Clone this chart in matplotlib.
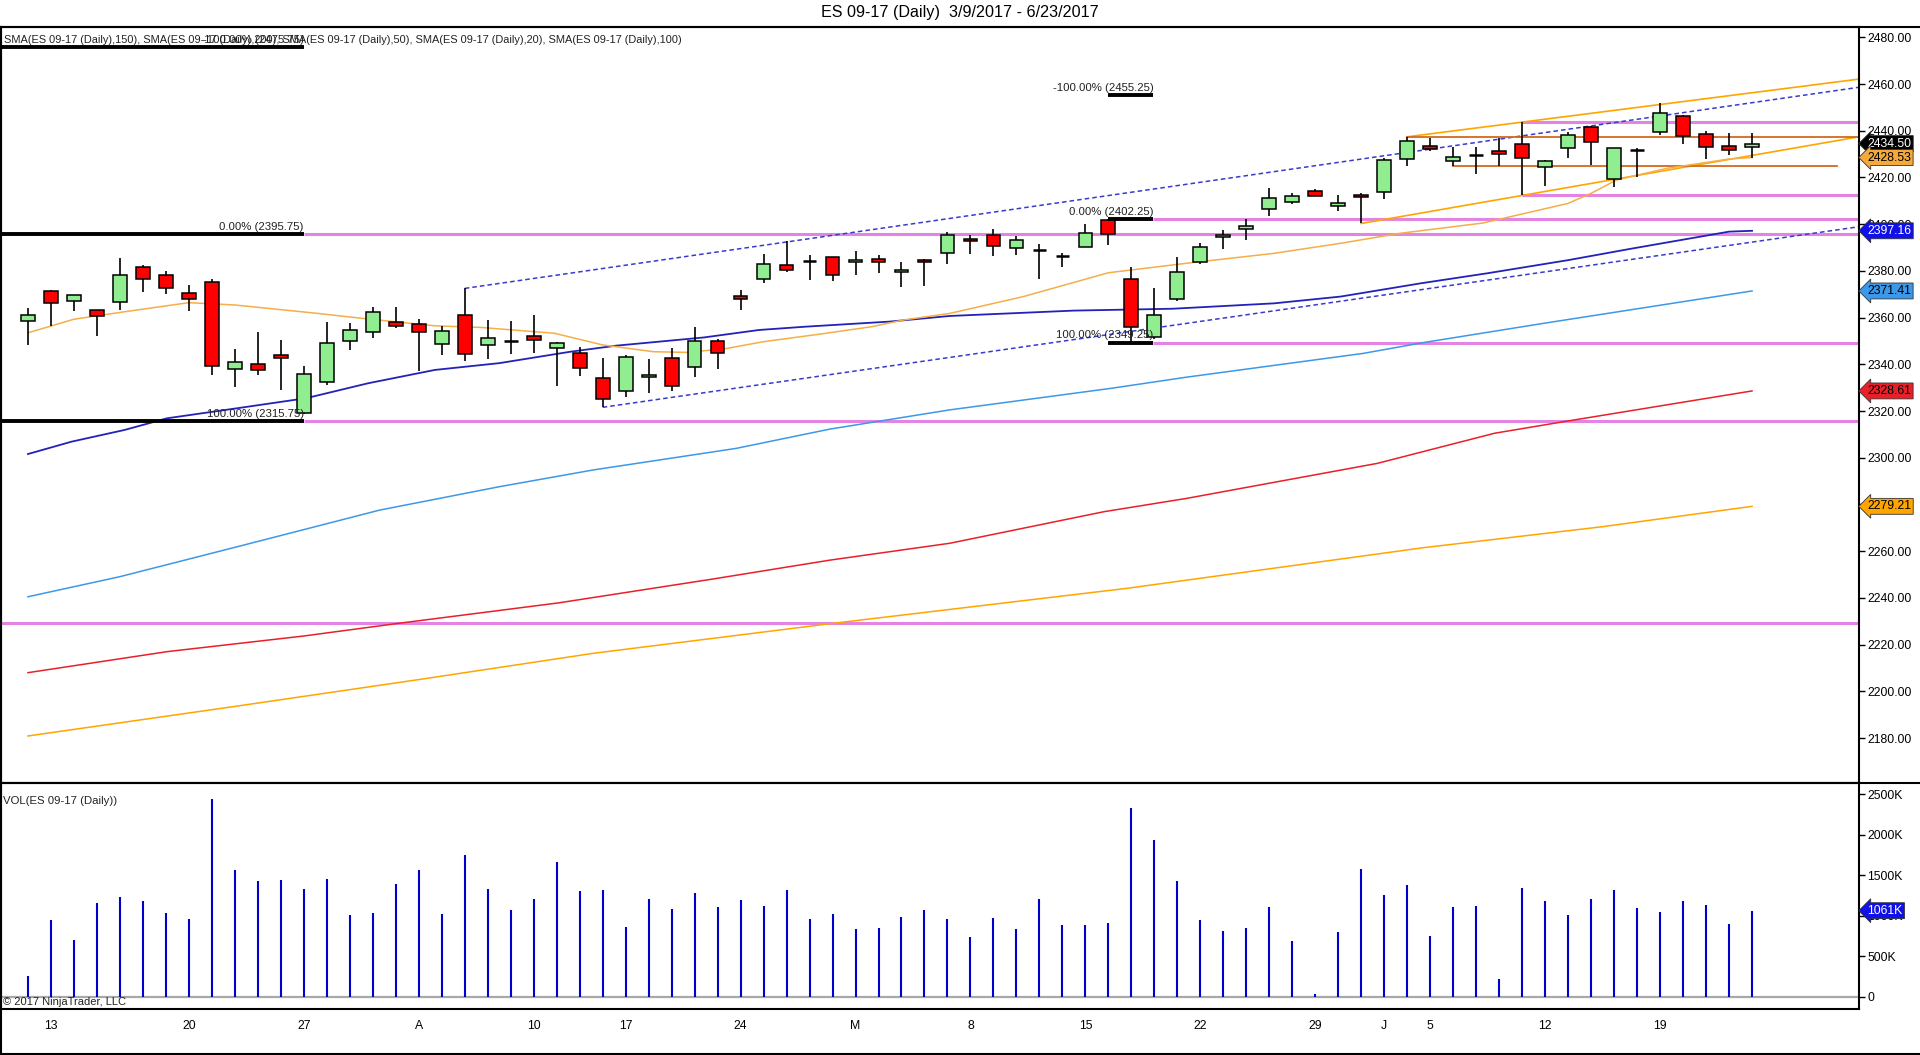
import numpy as np
import matplotlib
matplotlib.use('Agg')
import matplotlib.pyplot as plt
from matplotlib.lines import Line2D

plt.rcParams['font.family'] = ['Liberation Sans', 'DejaVu Sans']

########## daily bars, index 0 = 3/10 ... 75 = 6/23
opens = [2358.4, 2371.2, 2367.0, 2363.1, 2366.5, 2381.5, 2378.1, 2370.4, 2375.1, 2337.9,
         2340.0, 2343.8, 2319.0, 2332.3, 2349.8, 2353.7, 2358.0, 2357.1, 2348.6, 2361.0,
         2348.1, 2349.8, 2352.0, 2346.8, 2344.7, 2334.0, 2328.4, 2334.4, 2342.6, 2338.7,
         2349.8, 2369.2, 2376.4, 2382.4, 2384.2, 2385.8, 2383.7, 2385.2, 2379.4, 2384.5,
         2387.5, 2393.6, 2395.4, 2389.6, 2388.9, 2386.5, 2390.1, 2401.8, 2376.4, 2351.8,
         2367.8, 2383.6, 2394.4, 2397.8, 2406.3, 2409.6, 2414.0, 2407.6, 2412.3, 2413.6,
         2428.1, 2433.4, 2426.9, 2429.7, 2431.2, 2434.2, 2424.3, 2432.7, 2441.4, 2419.5,
         2431.6, 2439.6, 2446.1, 2438.4, 2433.4, 2432.9]
highs = [2364.0, 2371.7, 2369.5, 2363.1, 2385.5, 2382.4, 2379.8, 2374.0, 2376.4, 2346.6,
         2353.8, 2350.4, 2339.3, 2358.1, 2357.7, 2364.5, 2364.5, 2359.3, 2356.5, 2372.5,
         2359.0, 2358.5, 2361.1, 2349.4, 2347.3, 2342.6, 2344.0, 2342.1, 2346.8, 2356.0,
         2350.7, 2371.8, 2387.2, 2392.6, 2386.6, 2385.8, 2388.5, 2386.6, 2383.7, 2385.2,
         2396.5, 2395.2, 2397.9, 2394.9, 2391.5, 2387.5, 2400.1, 2402.25, 2381.8, 2372.5,
         2385.9, 2391.8, 2397.5, 2402.1, 2415.5, 2413.3, 2415.0, 2412.5, 2413.2, 2428.2,
         2437.5, 2436.7, 2433.2, 2432.9, 2436.7, 2443.75, 2427.3, 2439.6, 2442.0, 2432.4,
         2432.6, 2452.0, 2446.6, 2440.0, 2439.0, 2439.0]
lows = [2348.3, 2356.5, 2363.0, 2352.1, 2363.3, 2371.1, 2370.2, 2363.0, 2335.6, 2330.4,
        2335.6, 2329.1, 2318.8, 2331.0, 2346.3, 2351.4, 2355.4, 2337.1, 2344.0, 2341.6,
        2342.4, 2344.6, 2345.0, 2330.9, 2335.1, 2321.6, 2326.1, 2327.9, 2328.7, 2334.7,
        2338.1, 2363.4, 2374.9, 2379.7, 2376.2, 2375.8, 2378.4, 2379.2, 2373.2, 2373.7,
        2382.8, 2387.4, 2386.5, 2386.9, 2376.7, 2381.8, 2390.1, 2391.2, 2349.25, 2351.0,
        2367.1, 2382.9, 2389.5, 2393.4, 2403.5, 2408.8, 2411.9, 2405.8, 2400.3, 2410.6,
        2424.7, 2431.2, 2424.7, 2421.6, 2424.7, 2412.5, 2416.5, 2428.5, 2425.3, 2416.0,
        2420.3, 2438.2, 2434.2, 2428.0, 2429.6, 2428.2]
closes = [2361.0, 2366.1, 2369.5, 2360.5, 2378.1, 2376.7, 2372.5, 2368.1, 2339.4, 2340.8,
          2337.4, 2342.6, 2335.7, 2349.0, 2354.5, 2362.3, 2356.3, 2353.7, 2354.1, 2344.3,
          2351.1, 2349.8, 2350.3, 2349.0, 2338.3, 2325.0, 2343.0, 2335.4, 2330.9, 2349.8,
          2344.7, 2367.8, 2382.8, 2380.2, 2384.2, 2378.1, 2384.5, 2383.7, 2380.2, 2383.7,
          2395.5, 2392.6, 2390.8, 2393.1, 2388.9, 2386.5, 2396.1, 2395.8, 2355.8, 2361.0,
          2379.4, 2390.1, 2395.2, 2399.1, 2411.1, 2411.9, 2411.9, 2408.9, 2411.5, 2427.3,
          2435.4, 2432.3, 2428.6, 2429.7, 2429.9, 2428.4, 2426.9, 2438.0, 2435.3, 2432.4,
          2431.6, 2447.4, 2437.9, 2433.2, 2431.6, 2434.5]
volume_k = [255, 946, 699, 1155, 1229, 1180, 1032, 958, 2438, 1562,
            1427, 1439, 1328, 1451, 1007, 1032, 1390, 1562, 1020, 1748,
            1328, 1069, 1205, 1661, 1303, 1316, 859, 1205, 1081, 1279,
            1106, 1192, 1118, 1316, 958, 1020, 835, 847, 983, 1069,
            958, 736, 970, 835, 1205, 884, 884, 909, 2327, 1933,
            1427, 946, 810, 847, 1106, 687, 33, 798, 1575, 1254,
            1377, 748, 1106, 1118, 218, 1340, 1180, 1007, 1205, 1316,
            1094, 1044, 1180, 1131, 896, 1061]

tick_pos = [1, 7, 12, 17, 22, 26, 31, 36, 41, 46, 51, 56, 59, 61, 66, 71]
tick_lbl = ['13', '20', '27', 'A', '10', '17', '24', 'M', '8', '15', '22', '29', 'J', '5', '12', '19']

########## moving averages (bar, value)
sma20_x = [0, 2, 4.2, 7, 9, 12.6, 14.8, 17.7, 19.7, 22.9, 25, 27.2, 28.7, 30.4, 32, 34.5, 36.7,
           38.1, 40.1, 43.3, 47, 50.6, 54.2, 57.1, 59.7, 63.3, 67, 68, 69.1, 71.3, 74, 75]
sma20_y = [2353.5, 2359.3, 2362.5, 2366.4, 2365.4, 2361.8, 2359.4, 2356.5, 2355.8, 2353.3, 2348.3,
           2345.4, 2345.1, 2346.8, 2349.7, 2353.0, 2356.1, 2359.0, 2361.8, 2369.0, 2379.2, 2383.5,
           2387.5, 2391.8, 2396.1, 2400.5, 2408.9, 2413.2, 2418.9, 2423.9, 2427.9, 2428.53]
sma50_x = [0, 1.9, 4.2, 6.05, 9.1, 12.1, 14.8, 17.7, 20.5, 23.6, 25.6, 29.4, 31.8, 33.8, 37.5,
           40.1, 45.5, 49.8, 54.2, 57.1, 60.6, 63.5, 67, 69.8, 74, 75]
sma50_y = [2301.6, 2306.9, 2311.9, 2316.9, 2321.2, 2325.5, 2331.9, 2337.6, 2340.5, 2345.4, 2348.0,
           2351.5, 2354.7, 2356.1, 2358.3, 2360.7, 2363.0, 2363.8, 2366.1, 2369.0, 2374.7, 2379.0,
           2384.6, 2389.6, 2396.8, 2397.16]
sma100_x = [0, 4, 9.1, 15.3, 20.5, 24.6, 30.8, 34.9, 40.1, 47.1, 50.4, 58.1, 60.7, 65.9, 75]
sma100_y = [2240.5, 2249.1, 2261.9, 2277.6, 2287.6, 2294.8, 2304.0, 2312.3, 2320.5, 2329.7,
            2334.5, 2344.7, 2349.3, 2357.5, 2371.41]
sma150_x = [0, 6.05, 12, 16.1, 23.1, 29.8, 34.9, 40.1, 46.8, 50.4, 58.7, 63.8, 66.9, 75]
sma150_y = [2208.0, 2217.0, 2223.7, 2229.1, 2237.9, 2248.1, 2256.2, 2263.4, 2276.9, 2282.6,
            2297.6, 2310.5, 2315.6, 2328.61]
sma200_x = [0, 9.1, 16.9, 24.6, 35, 47.8, 60.7, 68.5, 75]
sma200_y = [2180.9, 2193.7, 2204.9, 2216.3, 2229.1, 2244.1, 2261.5, 2270.5, 2279.21]

########## drawings
fib1 = [2475.75, 2395.75, 2315.75]
fib1_lbl = ['-100.00% (2475.75)', '0.00% (2395.75)', '100.00% (2315.75)']
fib2 = [2455.25, 2402.25, 2349.25]
fib2_lbl = ['-100.00% (2455.25)', '0.00% (2402.25)', '100.00% (2349.25)']
pink_start = [-1.2, 12.0, 12.0, 48.96, 48.96, 65, 65]
pink_price = [2229.1, 2395.75, 2315.75, 2402.25, 2349.25, 2443.75, 2412.5]

XL = (-1.174, 79.65)

fig = plt.figure(figsize=(19.2, 10.55), dpi=100)
ax = fig.add_axes([0.0005, 0.2581, 0.9677, 0.7163])
axv = fig.add_axes([0.0005, 0.0436, 0.9677, 0.2145])

x = np.arange(len(opens))
o = np.array(opens); h = np.array(highs); l = np.array(lows); c = np.array(closes)

# pink levels
for s, p in zip(pink_start, pink_price):
    ax.plot([s, XL[1]], [p, p], color='#E383E3', lw=2.2, zorder=2, solid_capstyle='butt')

# fib anchors (black)
for p, t in zip(fib1, fib1_lbl):
    ax.plot([XL[0], 12.0], [p, p], color='black', lw=2.8, zorder=4, solid_capstyle='butt')
    ax.text(12.0, p + 1.0, t, ha='right', va='bottom', fontsize=8.2, color='#222222', zorder=5)
for p, t in zip(fib2, fib2_lbl):
    ax.plot([47, 48.96], [p, p], color='black', lw=2.8, zorder=4, solid_capstyle='butt')
    ax.text(48.96, p + 1.0, t, ha='right', va='bottom', fontsize=8.2, color='#222222', zorder=5)

# channels / trend lines
ax.plot([19, XL[1]], [2372.5, 2458.6], color='#3A3AD0', lw=1.1, ls=(0, (3, 2)), zorder=2)
ax.plot([25, XL[1]], [2321.6, 2398.9], color='#3A3AD0', lw=1.1, ls=(0, (3, 2)), zorder=2)
ax.plot([60, XL[1]], [2437.4, 2462.1], color='#FFA500', lw=1.2, zorder=2)
ax.plot([58, XL[1]], [2400.3, 2437.4], color='#FFA500', lw=1.2, zorder=2)
ax.plot([60, XL[1]], [2437.4, 2437.4], color='#D2691E', lw=1.3, zorder=2)
ax.plot([62, 78.7], [2424.8, 2424.8], color='#D2691E', lw=1.3, zorder=2)

# SMAs
ax.plot(sma200_x, sma200_y, color='#FFA500', lw=1.1, zorder=2.5)
ax.plot(sma150_x, sma150_y, color='#E8202A', lw=1.1, zorder=2.5)
ax.plot(sma100_x, sma100_y, color='#3C98E8', lw=1.1, zorder=2.5)
ax.plot(sma50_x, sma50_y, color='#2222B8', lw=1.3, zorder=2.5)
ax.plot(sma20_x, sma20_y, color='#F5AE48', lw=1.1, zorder=2.5)

# candles
ax.vlines(x, l, h, color='black', lw=1.2, zorder=3)
up = c > o
dn = c < o
eq = c == o
ax.bar(x[up], (c - o)[up], bottom=o[up], width=0.6, color='#90EE90', edgecolor='black', lw=1.1, zorder=3.5)
ax.bar(x[dn], (o - c)[dn], bottom=c[dn], width=0.6, color='#FF0000', edgecolor='black', lw=1.1, zorder=3.5)
ax.hlines(o[eq], x[eq] - 0.3, x[eq] + 0.3, color='black', lw=1.8, zorder=3.5)

ax.set_xlim(XL)
ax.set_ylim(2160.9, 2484.4)
ax.set_xticks([])
ax.yaxis.tick_right()
ax.set_yticks(np.arange(2180, 2481, 20))
ax.set_yticklabels(['%.2f' % v for v in np.arange(2180, 2481, 20)])
ax.tick_params(axis='y', direction='out', length=4, width=1, pad=2, labelsize=8.8, colors='black')
for s in ax.spines.values():
    s.set_linewidth(1.5)

ax.text(-1.05, 2478.9, 'SMA(ES 09-17 (Daily),150), SMA(ES 09-17 (Daily),200), SMA(ES 09-17 (Daily),50), '
        'SMA(ES 09-17 (Daily),20), SMA(ES 09-17 (Daily),100)', fontsize=7.9, va='center', ha='left',
        color='#222222', zorder=6)


def tag(a, y, txt, fc, tc):
    a.annotate(txt, xy=(1, y), xycoords=('axes fraction', 'data'), xytext=(6, 0),
               textcoords='offset points', ha='left', va='center', fontsize=8.8, color=tc,
               bbox=dict(boxstyle='larrow,pad=0.16', fc=fc, ec='#333333', lw=0.6),
               annotation_clip=False, zorder=10)


tag(ax, closes[-1], '%.2f' % closes[-1], 'black', 'white')
tag(ax, sma20_y[-1], '%.2f' % sma20_y[-1], '#F5A83C', 'black')
tag(ax, sma50_y[-1], '%.2f' % sma50_y[-1], '#1010E8', 'white')
tag(ax, sma100_y[-1], '%.2f' % sma100_y[-1], '#3C98E8', 'black')
tag(ax, sma150_y[-1], '%.2f' % sma150_y[-1], '#E8202A', 'black')
tag(ax, sma200_y[-1], '%.2f' % sma200_y[-1], '#FFA500', 'black')

# volume panel
axv.vlines(x, 0, volume_k, color='#0000CC', lw=1.5, zorder=3)
axv.axhline(0, color='#A8A8A8', lw=1.6, zorder=2)
axv.set_xlim(XL)
axv.set_ylim(-152, 2640)
axv.yaxis.tick_right()
vt = [0, 500, 1000, 1500, 2000, 2500]
axv.set_yticks(vt)
axv.set_yticklabels(['0' if v == 0 else '%dK' % v for v in vt])
axv.tick_params(axis='y', direction='out', length=4, width=1, pad=2, labelsize=8.8)
axv.set_xticks(tick_pos)
axv.set_xticklabels(tick_lbl)
axv.tick_params(axis='x', length=0, pad=8, labelsize=8.8)
for s in axv.spines.values():
    s.set_linewidth(1.5)
axv.text(-1.1, 2418, 'VOL(ES 09-17 (Daily))', fontsize=8.2, va='center', ha='left', color='#222222')
axv.text(-1.1, -68, '\u00a9 2017 NinjaTrader, LLC', fontsize=8, va='center', ha='left', color='#222222')
tag(axv, volume_k[-1], '%dK' % volume_k[-1], '#1010E8', 'white')

fig.text(0.5, 1 - 13 / 1055, 'ES 09-17 (Daily)  3/9/2017 - 6/23/2017', ha='center', va='center', fontsize=11.6)

# frame lines spanning the full width
for yy in [1 - 27 / 1055, 0.2581]:
    fig.add_artist(Line2D([0, 1], [yy, yy], color='black', lw=1.5, transform=fig.transFigure))
fig.add_artist(Line2D([0, 1], [0.0012, 0.0012], color='black', lw=1.5, transform=fig.transFigure))
fig.add_artist(Line2D([0.0005, 0.0005], [0, 1 - 27 / 1055], color='black', lw=1.5, transform=fig.transFigure))

fig.savefig('out.png', dpi=100)
